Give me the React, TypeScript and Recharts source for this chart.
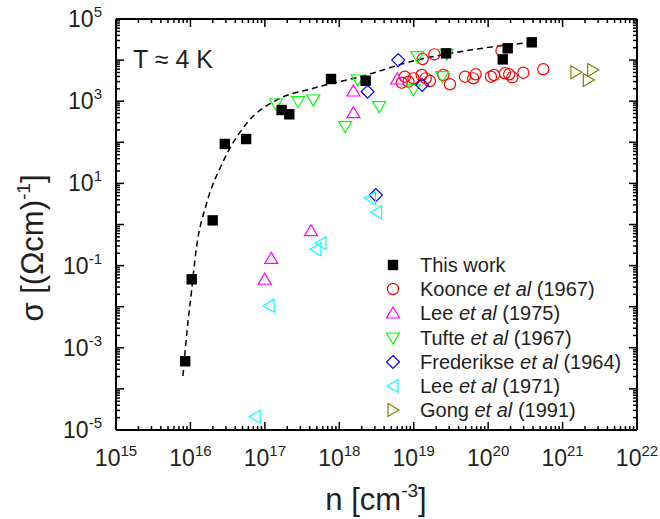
import React from 'react';
import { ComposedChart, Line, Scatter, XAxis, YAxis } from 'recharts';

const FONT = '"Liberation Sans", Arial, Helvetica, sans-serif';
const INK = '#231f20';

// axis decades
const X_DECADES = [15, 16, 17, 18, 19, 20, 21, 22];
const Y_DECADES = [-5, -4, -3, -2, -1, 0, 1, 2, 3, 4, 5];
const Y_LABELED = [-5, -3, -1, 1, 3, 5];

// [n (cm^-3), sigma (Ohm cm)^-1]
const thisWork: [number, number][] = [
  [8.5e15, 4.7e-4], [1.04e16, 0.0465], [1.99e16, 1.26], [2.9e16, 91], [5.6e16, 120],
  [1.68e17, 611], [2.13e17, 480], [7.74e17, 3470], [2.26e18, 3150], [2.72e19, 14600],
  [1.57e20, 10400], [1.83e20, 19400], [3.85e20, 27100],
];

const koonce1967: [number, number][] = [
  [6.9e18, 2820], [7.6e18, 3950], [8.5e18, 2980], [9.9e18, 3600], [1.28e19, 4340],
  [1.32e19, 10600], [1.45e19, 3600], [1.65e19, 3090], [1.89e19, 13800], [2.5e19, 4340],
  [3.07e19, 2580], [4.89e19, 3950], [6.3e19, 3600], [6.8e19, 4520], [1.09e20, 3950],
  [1.2e20, 4340], [1.51e20, 16900], [1.68e20, 4780], [1.92e20, 4520], [2.11e20, 3800],
  [2.97e20, 4940], [5.5e20, 5970],
];

const lee1975: [number, number][] = [
  [9.95e16, 0.0465], [1.22e17, 0.15], [4.17e17, 0.706], [1.55e18, 1770], [1.55e18, 525],
  [6.0e18, 3470],
];

const tufte1967: [number, number][] = [
  [1.41e17, 855], [2.8e17, 973], [4.47e17, 1070], [1.2e18, 240], [1.77e18, 3280],
  [3.44e18, 735], [9.9e18, 1880], [1.12e19, 12100], [2.42e19, 3950], [2.77e19, 13800],
];

const frederikse1964: [number, number][] = [
  [2.4e18, 1700], [3.1e18, 5.2], [6.2e18, 10000], [1.3e19, 2480],
];

const lee1971: [number, number][] = [
  [7.4e16, 2.1e-5], [1.14e17, 0.0106], [4.86e17, 0.249], [5.68e17, 0.349],
  [2.63e18, 4.34], [3.17e18, 1.98],
];

const gong1991: [number, number][] = [
  [1.51e21, 5050], [2.22e21, 3280], [2.54e21, 5740],
];

// dashed guide curve
const fitCurve: [number, number][] = [
  [7.94e15, 2.06e-4], [9.35e15, 4.93e-3], [9.86e15, 0.011], [1.21e16, 0.288],
  [1.65e16, 3.28], [2.68e16, 30.8], [5.7e16, 290], [1.44e17, 1070], [4.48e17, 2060],
  [2.33e18, 4340], [8.9e18, 9140], [4.19e19, 16000], [3.85e20, 27100],
];

const toXY = (arr: [number, number][]) => arr.map(([x, y]) => ({ x, y }));

function logTicks(decades: number[]) {
  const out: number[] = [];
  decades.forEach((e, i) => {
    out.push(Number(`1e${e}`));
    if (i < decades.length - 1) {
      for (let m = 2; m <= 9; m++) out.push(Number(`${m}e${e}`));
    }
  });
  return out;
}

const X_TICKS = logTicks(X_DECADES);
const Y_TICKS = logTicks(Y_DECADES);

const expOf = (v: number) => Math.round(Math.log10(v));
const isMajor = (v: number) => {
  const e = Math.log10(v);
  return Math.abs(e - Math.round(e)) < 1e-6;
};

const MAJ = 8;
const MIN = 4;
const TICK_W = 1.5;

function BottomTick(props: any) {
  const { x, y, payload } = props;
  const major = isMajor(payload.value);
  return (
    <g>
      <line x1={x} x2={x} y1={y} y2={y - (major ? MAJ : MIN)} stroke="#000" strokeWidth={TICK_W} />
      {major && (
        <text x={x} y={y + 36} textAnchor="middle" fontSize={23} fill={INK} fontFamily={FONT}>
          10<tspan dy={-10} fontSize={15}>{expOf(payload.value)}</tspan>
        </text>
      )}
    </g>
  );
}

function TopTick(props: any) {
  const { x, y, payload } = props;
  const major = isMajor(payload.value);
  return <line x1={x} x2={x} y1={y} y2={y + (major ? MAJ : MIN)} stroke="#000" strokeWidth={TICK_W} />;
}

function LeftTick(props: any) {
  const { x, y, payload } = props;
  const major = isMajor(payload.value);
  const e = expOf(payload.value);
  return (
    <g>
      <line x1={x} x2={x + (major ? MAJ : MIN)} y1={y} y2={y} stroke="#000" strokeWidth={TICK_W} />
      {major && Y_LABELED.includes(e) && (
        <text x={x - 14} y={y + 8} textAnchor="end" fontSize={23} fill={INK} fontFamily={FONT}>
          10<tspan dy={-10} fontSize={15}>{e}</tspan>
        </text>
      )}
    </g>
  );
}

function RightTick(props: any) {
  const { x, y, payload } = props;
  const major = isMajor(payload.value);
  return <line x1={x} x2={x - (major ? MAJ : MIN)} y1={y} y2={y} stroke="#000" strokeWidth={TICK_W} />;
}

// markers
type Mk = 'square' | 'circle' | 'up' | 'down' | 'diamond' | 'left' | 'right';

function Marker({ kind, cx, cy, color }: { kind: Mk; cx: number; cy: number; color: string }) {
  const sw = 1.2;
  switch (kind) {
    case 'square':
      return <rect x={cx - 5.2} y={cy - 5.2} width={10.4} height={10.4} fill={color} />;
    case 'circle':
      return <circle cx={cx} cy={cy} r={5.6} fill="none" stroke={color} strokeWidth={sw} />;
    case 'up':
      return <polygon points={`${cx},${cy - 6} ${cx + 6.5},${cy + 5} ${cx - 6.5},${cy + 5}`} fill="none" stroke={color} strokeWidth={sw} />;
    case 'down':
      return <polygon points={`${cx - 6.5},${cy - 5} ${cx + 6.5},${cy - 5} ${cx},${cy + 6}`} fill="none" stroke={color} strokeWidth={sw} />;
    case 'left':
      return <polygon points={`${cx - 6},${cy} ${cx + 5},${cy - 6.5} ${cx + 5},${cy + 6.5}`} fill="none" stroke={color} strokeWidth={sw} />;
    case 'right':
      return <polygon points={`${cx + 6},${cy} ${cx - 5},${cy - 6.5} ${cx - 5},${cy + 6.5}`} fill="none" stroke={color} strokeWidth={sw} />;
    default:
      return <polygon points={`${cx},${cy - 6.5} ${cx + 6.5},${cy} ${cx},${cy + 6.5} ${cx - 6.5},${cy}`} fill="none" stroke={color} strokeWidth={sw} />;
  }
}

const SERIES: { name: string; al: boolean; year: string; data: [number, number][]; kind: Mk; color: string }[] = [
  { name: 'This work', al: false, year: '', data: thisWork, kind: 'square', color: '#000000' },
  { name: 'Koonce', al: true, year: '(1967)', data: koonce1967, kind: 'circle', color: '#ff0000' },
  { name: 'Lee', al: true, year: '(1975)', data: lee1975, kind: 'up', color: '#ff00ff' },
  { name: 'Tufte', al: true, year: '(1967)', data: tufte1967, kind: 'down', color: '#00ff00' },
  { name: 'Frederikse', al: true, year: '(1964)', data: frederikse1964, kind: 'diamond', color: '#0000ff' },
  { name: 'Lee', al: true, year: '(1971)', data: lee1971, kind: 'left', color: '#00ffff' },
  { name: 'Gong', al: true, year: '(1991)', data: gong1991, kind: 'right', color: '#808000' },
];

const axisLine = { stroke: '#000', strokeWidth: 2 };

export default function App() {
  // open markers first, this work on top
  const order = [1, 2, 3, 4, 5, 6, 0];
  return (
    <div style={{ position: 'absolute', left: 0, top: 0, width: 660, height: 519, background: '#fff', fontFamily: FONT }}>
      <ComposedChart width={660} height={519} data={toXY(fitCurve)} margin={{ top: 18, right: 22, bottom: 88, left: 115 }}>
        <XAxis
          xAxisId="b"
          dataKey="x"
          type="number"
          scale="log"
          domain={[1e15, 1e22]}
          allowDataOverflow
          ticks={X_TICKS}
          interval={0}
          height={1}
          tickSize={0}
          tickMargin={0}
          tickLine={false}
          tick={<BottomTick />}
          axisLine={axisLine}
        />
        <XAxis
          xAxisId="t"
          orientation="top"
          dataKey="x"
          type="number"
          scale="log"
          domain={[1e15, 1e22]}
          allowDataOverflow
          ticks={X_TICKS}
          interval={0}
          height={1}
          tickSize={0}
          tickMargin={0}
          tickLine={false}
          tick={<TopTick />}
          axisLine={axisLine}
        />
        <YAxis
          yAxisId="l"
          dataKey="y"
          type="number"
          scale="log"
          domain={[1e-5, 1e5]}
          allowDataOverflow
          ticks={Y_TICKS}
          interval={0}
          width={1}
          tickSize={0}
          tickMargin={0}
          tickLine={false}
          tick={<LeftTick />}
          axisLine={axisLine}
        />
        <YAxis
          yAxisId="r"
          orientation="right"
          dataKey="y"
          type="number"
          scale="log"
          domain={[1e-5, 1e5]}
          allowDataOverflow
          ticks={Y_TICKS}
          interval={0}
          width={1}
          tickSize={0}
          tickMargin={0}
          tickLine={false}
          tick={<RightTick />}
          axisLine={axisLine}
        />
        <Line
          xAxisId="b"
          yAxisId="l"
          dataKey="y"
          type="monotone"
          stroke="#000"
          strokeWidth={1.5}
          strokeDasharray="6 4"
          dot={false}
          activeDot={false}
          isAnimationActive={false}
        />
        {order.map((i) => {
          const s = SERIES[i];
          return (
            <Scatter
              key={i}
              xAxisId="b"
              yAxisId="l"
              data={toXY(s.data)}
              isAnimationActive={false}
              shape={(p: any) => <Marker kind={s.kind} cx={p.cx} cy={p.cy} color={s.color} />}
            />
          );
        })}
      </ComposedChart>

      <svg width={660} height={519} style={{ position: 'absolute', left: 0, top: 0, pointerEvents: 'none' }}>
        <text x={133} y={68} fontSize={25} fill={INK} fontFamily={FONT}>T ≈ 4 K</text>
        <text x={376} y={510} textAnchor="middle" fontSize={31} fill={INK} fontFamily={FONT}>
          n [cm<tspan dy={-13} fontSize={19}>-3</tspan><tspan dy={13}>]</tspan>
        </text>
        <text x={43} y={248} transform="rotate(-90, 43, 248)" textAnchor="middle" fontSize={31} fill={INK} fontFamily={FONT}>
          σ [(Ωcm)<tspan dy={-13} fontSize={19}>-1</tspan><tspan dy={13}>]</tspan>
        </text>
      </svg>

      <div style={{ position: 'absolute', left: 383, top: 253, color: INK, fontSize: 20, lineHeight: '24.2px' }}>
        {SERIES.map((s, i) => (
          <div key={i} style={{ display: 'flex', alignItems: 'center', height: 24.2, whiteSpace: 'nowrap' }}>
            <svg width={20} height={20} style={{ flex: 'none' }}>
              <Marker kind={s.kind} cx={10} cy={10} color={s.color} />
            </svg>
            <span style={{ marginLeft: 17 }}>
              {s.name}
              {s.al && (
                <>
                  {' '}<i>et al</i> {s.year}
                </>
              )}
            </span>
          </div>
        ))}
      </div>
    </div>
  );
}
